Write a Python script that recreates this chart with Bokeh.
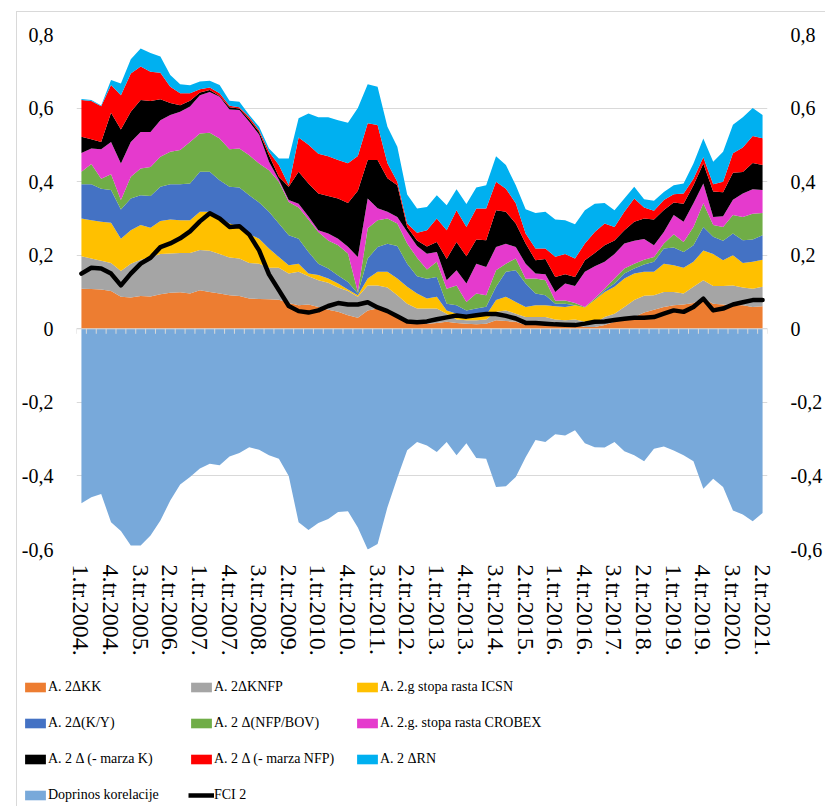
import numpy as np
from bokeh.plotting import figure
from bokeh.layouts import column
from bokeh.models import (ColumnDataSource, Range1d, LinearAxis, FixedTicker,
                          CustomJSTickFormatter, Legend, LegendItem, Span)
from bokeh.embed import file_html
from bokeh.resources import INLINE

# ---------------- data ----------------
quarters = [f"{q}.tr.{y}." for y in range(2004, 2022) for q in (1, 2, 3, 4)][:70]
tick_labels = ["1.tr.2004.", "4.tr.2004.", "3.tr.2005.", "2.tr.2006.", "1.tr.2007.",
               "4.tr.2007.", "3.tr.2008.", "2.tr.2009.", "1.tr.2010.", "4.tr.2010.",
               "3.tr.2011.", "2.tr.2012.", "1.tr.2013.", "4.tr.2013.", "3.tr.2014.",
               "2.tr.2015.", "1.tr.2016.", "4.tr.2016.", "3.tr.2017.", "2.tr.2018.",
               "1.tr.2019.", "4.tr.2019.", "3.tr.2020.", "2.tr.2021."]

kk = [.109, .108, .107, .103, .087, .085, .089, .088, .094, .098,
      .099, .096, .105, .100, .096, .091, .089, .082, .081, .080,
      .079, .070, .064, .066, .059, .052, .046, .037, .030, .050,
      .055, .046, .032, .019, .013, .014, .016, .019, .016, .014,
      .012, .014, .023, .021, .019, .010, .016, .016, .010, .010,
      .010, .005, .005, .010, .019, .025, .032, .044, .052, .059,
      .064, .066, .070, .082, .068, .066, .064, .064, .059, .061]
knfp = [.088, .083, .078, .076, .070, .092, .099, .107, .109, .107,
        .107, .110, .109, .112, .107, .103, .102, .097, .096, .086,
        .087, .080, .091, .077, .073, .073, .066, .066, .057, .068,
        .063, .066, .059, .049, .042, .041, .039, .022, .009, .009,
        .011, .011, .023, .029, .022, .022, .016, .016, .015, .013,
        .015, .014, .011, .022, .022, .034, .046, .046, .039, .041,
        .036, .030, .044, .050, .048, .050, .054, .048, .050, .053]
icsn = [.103, .104, .106, .109, .088, .091, .094, .080, .090, .092,
        .089, .089, .104, .106, .101, .092, .088, .078, .068, .052,
        .029, .023, .022, .007, .014, .012, .011, .004, .004, .019,
        .037, .043, .046, .046, .041, .027, .032, .009, .016, .009,
        .014, .012, .032, .037, .032, .027, .032, .032, .036, .036,
        .039, .039, .062, .068, .073, .078, .072, .065, .064, .077,
        .073, .070, .068, .081, .087, .070, .082, .067, .073, .074]
ky = [.093, .098, .090, .089, .079, .086, .081, .086, .093, .096,
      .098, .100, .109, .109, .100, .100, .105, .106, .098, .100,
      .091, .081, .068, .059, .031, .027, .022, .020, .005, .054,
      .067, .076, .088, .063, .047, .054, .054, .018, .023, .018,
      .018, .023, .036, .068, .086, .064, .032, .027, .007, .009,
      .000, .000, .000, .005, .009, .013, .014, .020, .027, .041,
      .048, .043, .045, .064, .047, .053, .059, .062, .061, .066]
nfp_bov = [.034, .055, .027, .043, .026, .059, .073, .079, .082, .088,
           .093, .113, .104, .106, .113, .102, .106, .109, .106, .113,
           .114, .091, .085, .088, .086, .076, .082, .078, .004, .082,
           .073, .069, .061, .055, .050, .025, .041, .041, .054, .023,
           .041, .031, .045, .022, .032, .013, .041, .041, .008, .009,
           .006, .001, .004, .004, .014, .014, .013, .013, .013, .014,
           .036, .027, .050, .064, .032, .038, .050, .063, .070, .061]
crobex = [.051, .042, .080, .088, .099, .095, .099, .095, .099, .100,
          .104, .096, .104, .111, .114, .108, .105, .091, .079, .023,
          .005, .005, .010, .008, .005, .019, .018, .018, .095, .081,
          .033, .018, .018, .032, .032, .043, .027, .023, .041, .050,
          .081, .077, .063, .054, .031, .041, .013, .016, .024, .046,
          .046, .096, .088, .073, .066, .068, .062, .056, .032, .031,
          .052, .055, .064, .054, .022, .029, .042, .064, .066, .062]
marza_k = [.044, .025, .020, .079, .093, .082, .087, .084, .057, .033,
           .018, .016, .007, .005, .002, .006, .004, .006, .007, .018,
           .008, .036, .087, .090, .100, .102, .109, .119, .180, .105,
           .131, .091, .086, .013, .015, .020, .027, .058, .077, .074,
           .066, .073, .100, .087, .064, .055, .036, .042, .041, .025,
           .025, .031, .036, .045, .037, .036, .052, .056, .070, .060,
           .034, .049, .049, .054, .069, .065, .073, .058, .072, .068]
marza_nfp = [.100, .104, .097, .076, .093, .104, .091, .080, .072, .044,
             .032, .020, .009, .007, .007, .004, .003, .006, .005, .009,
             .032, .004, .093, .105, .108, .108, .105, .108, .095, .100,
             .095, .041, .010, .009, .021, .044, .064, .078, .086, .080,
             .084, .086, .078, .063, .055, .027, .032, .028, .055, .055,
             .050, .046, .057, .059, .037, .050, .063, .030, .024, .027,
             .023, .028, .018, .017, .020, .029, .053, .067, .073, .073]
rn = [.003, .003, .002, .013, .032, .039, .049, .051, .044, .032,
      .025, .022, .021, .018, .023, .014, .015, .006, .009, .009,
      .018, .073, .052, .085, .099, .106, .108, .110, .130, .106,
      .104, .099, .095, .079, .066, .063, .063, .068, .057, .062,
      .057, .063, .069, .064, .049, .066, .097, .100, .101, .092,
      .093, .090, .077, .056, .045, .036, .032, .022, .027, .022,
      .024, .027, .041, .051, .061, .081, .078, .082, .076, .063]
doprinos = [-.474, -.458, -.449, -.526, -.550, -.589, -.589, -.562, -.521, -.467,
            -.423, -.403, -.380, -.367, -.371, -.347, -.338, -.322, -.329, -.344,
            -.353, -.400, -.526, -.547, -.528, -.517, -.498, -.496, -.540, -.600,
            -.585, -.485, -.405, -.330, -.308, -.317, -.335, -.308, -.344, -.311,
            -.351, -.353, -.430, -.428, -.403, -.349, -.302, -.308, -.287, -.290,
            -.276, -.311, -.322, -.323, -.308, -.333, -.344, -.360, -.326, -.320,
            -.331, -.344, -.360, -.435, -.408, -.430, -.494, -.505, -.523, -.501]
fci2 = [.150, .166, .164, .150, .118, .150, .177, .193, .222, .232,
        .246, .265, .292, .314, .300, .277, .279, .256, .213, .148,
        .105, .062, .048, .044, .050, .062, .070, .066, .066, .072,
        .058, .048, .034, .020, .018, .020, .026, .031, .036, .033,
        .037, .040, .040, .035, .028, .016, .016, .014, .012, .011,
        .010, .014, .019, .020, .024, .027, .030, .030, .032, .041,
        .050, .046, .059, .082, .050, .055, .066, .072, .078, .078]

series_names = ["kk", "knfp", "icsn", "ky", "nfp_bov", "crobex", "marza_k", "marza_nfp", "rn"]
series_labels = ["A. 2\u0394KK", "A. 2\u0394KNFP", "A. 2.g stopa rasta ICSN",
                 "A. 2\u0394(K/Y)", "A. 2 \u0394(NFP/BOV)", "A. 2.g. stopa rasta CROBEX",
                 "A. 2 \u0394 (- marza K)", "A. 2 \u0394 (- marza NFP)", "A. 2 \u0394RN"]
series_colors = ["#ED7D31", "#A5A5A5", "#FFC000", "#4472C4", "#70AD47",
                 "#E53ACD", "#000000", "#FF0000", "#00B0F0"]
doprinos_color = "#78A9DA"

x = list(range(len(quarters)))
source = ColumnDataSource(dict(x=x, kk=kk, knfp=knfp, icsn=icsn, ky=ky, nfp_bov=nfp_bov,
                               crobex=crobex, marza_k=marza_k, marza_nfp=marza_nfp, rn=rn,
                               doprinos=doprinos, fci2=fci2, zero=[0] * len(x)))

FONT = "Liberation Serif"

# ---------------- main chart ----------------
p = figure(width=808, height=650, x_range=Range1d(-0.5, len(x) - 0.5),
           y_range=Range1d(-0.6, 0.8), output_backend="svg", toolbar_location=None,
           min_border_left=59, min_border_right=46, min_border_top=22, min_border_bottom=113)
p.outline_line_color = None
p.background_fill_color = "white"
p.border_fill_color = "white"

yticks = [-0.6, -0.4, -0.2, 0.0, 0.2, 0.4, 0.6, 0.8]
fmt = CustomJSTickFormatter(code="""
if (Math.abs(tick) < 1e-9) { return "0"; }
return tick.toFixed(1).replace(".", ",");
""")

p.xgrid.visible = False
p.ygrid.ticker = FixedTicker(ticks=yticks)
p.ygrid.grid_line_color = "#D9D9D9"
p.ygrid.grid_line_width = 1

def style_y(ax):
    ax.ticker = FixedTicker(ticks=yticks)
    ax.formatter = fmt
    ax.axis_line_color = None
    ax.major_tick_line_color = None
    ax.minor_tick_line_color = None
    ax.major_label_standoff = 17
    ax.major_label_text_font = FONT
    ax.major_label_text_font_size = "20px"
    ax.major_label_text_color = "#000000"

style_y(p.yaxis[0])
right_axis = LinearAxis()
style_y(right_axis)
p.add_layout(right_axis, "right")

xa = p.xaxis[0]
xa.ticker = FixedTicker(ticks=list(range(0, len(x), 3)))
xa.formatter = CustomJSTickFormatter(args=dict(labels=tick_labels),
                                     code="return labels[Math.round(tick / 3)] || '';")
xa.axis_line_color = None
xa.major_tick_line_color = None
xa.minor_tick_line_color = None
xa.major_label_orientation = "vertical"
xa.major_label_standoff = 9
xa.major_label_text_font = FONT
xa.major_label_text_font_size = "24px"
xa.major_label_text_color = "#000000"

# negative area
r_dop = p.varea(x="x", y1="zero", y2="doprinos", source=source, fill_color=doprinos_color)
# stacked positive areas
stack_rs = p.varea_stack(stackers=series_names, x="x", color=series_colors, source=source)

# category axis at zero with tick marks between categories
p.add_layout(Span(location=0, dimension="width", line_color="#D9D9D9", line_width=1))
tick_x = (np.arange(len(x) + 1) - 0.5).tolist()
p.segment(x0=tick_x, y0=[0] * len(tick_x), x1=tick_x, y1=[-0.0136] * len(tick_x),
          line_color="#D9D9D9", line_width=1)

r_fci = p.line(x="x", y="fci2", source=source, line_color="#000000", line_width=4.5,
               line_join="round", line_cap="round")

# ---------------- legend (separate strip below the chart) ----------------
lg = figure(width=808, height=144, x_range=Range1d(0, 1), y_range=Range1d(0, 1),
            output_backend="svg", toolbar_location=None,
            x_axis_type=None, y_axis_type=None,
            min_border_left=0, min_border_right=0, min_border_top=0, min_border_bottom=0)
lg.frame_align = False
lg.outline_line_color = None
lg.background_fill_color = "white"
lg.border_fill_color = "white"

# placeholder sources (NaN -> nothing drawn) so that legend swatches render
empty = ColumnDataSource(dict(x=np.array([np.nan]), y1=np.array([np.nan]),
                              y2=np.array([np.nan])))
leg_rs = [lg.varea(x="x", y1="y1", y2="y2", source=empty, fill_color=c) for c in series_colors]
leg_dop = lg.varea(x="x", y1="y1", y2="y2", source=empty, fill_color=doprinos_color)
leg_fci = lg.line(x="x", y="y1", source=empty, line_color="#000000", line_width=4.5)

items = [LegendItem(label=lab, renderers=[r]) for lab, r in zip(series_labels, leg_rs)]
items.append(LegendItem(label="Doprinos korelacije", renderers=[leg_dop]))
items.append(LegendItem(label="FCI 2", renderers=[leg_fci]))

legend = Legend(items=items, location=(5, 1), orientation="horizontal", ncols=3,
                glyph_width=26, glyph_height=12, label_width=124, label_height=20,
                label_standoff=0, spacing=16, padding=0, margin=0,
                label_text_font=FONT, label_text_font_size="14px",
                label_text_color="#000000", border_line_color=None,
                background_fill_alpha=0)
lg.add_layout(legend)

layout = column(p, lg, spacing=0)
layout.margin = (11, 0, 0, 16)
layout.styles = {"border-left": "1px solid #D9D9D9", "border-top": "1px solid #D9D9D9"}

open("out.html", "w").write(file_html(layout, INLINE))
